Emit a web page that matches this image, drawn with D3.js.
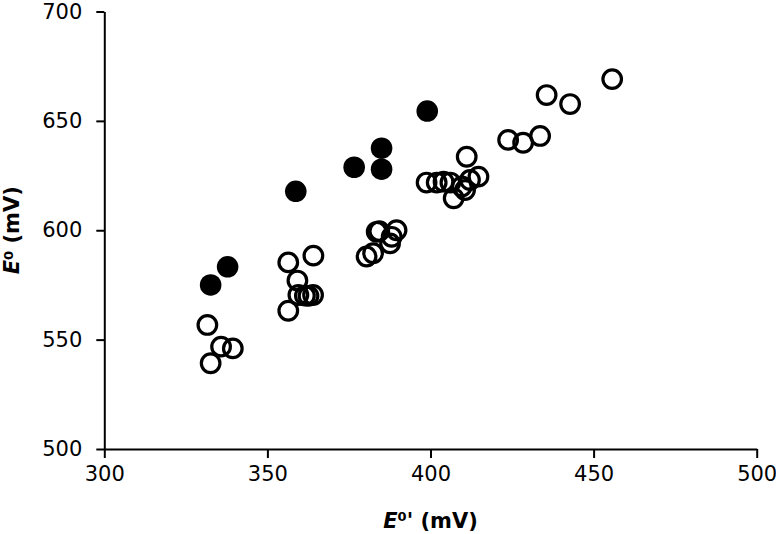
<!DOCTYPE html>
<html>
<head>
<meta charset="utf-8">
<script src="https://cdn.jsdelivr.net/npm/d3@7"></script>
<style>
  html, body { margin: 0; padding: 0; background: #fff; }
  svg { display: block; }
  .tick text { font-family: "DejaVu Sans", sans-serif; font-size: 21px; fill: #000; }
  .lbl { font-family: "DejaVu Sans", sans-serif; font-weight: bold; font-size: 21px; fill: #000; }
</style>
</head>
<body>
<script>
// Tick values
const xTicks = [300, 350, 400, 450, 500];
const yTicks = [500, 550, 600, 650, 700];

// Filled series: [E0' (mV), E0 (mV)]
const filledX = [399, 385, 376.6, 385, 358.7, 337.8, 332.6];
const filledY = [654.5, 637.5, 628.8, 627.9, 617.8, 583.3, 575.0];

// Open series: [E0' (mV), E0 (mV)]
const openX = [331.6, 335.8, 339.4, 332.6, 356.4, 364.1, 359.2, 359.5, 361.5, 362.6, 364.0, 356.4,
               383.5, 384.3, 389.6, 388.1, 387.6, 380.4, 382.4,
               411.1, 398.8, 401.9, 404.0, 406.1, 407.1, 409.6, 412.1, 414.7, 410.6,
               423.8, 428.4, 433.6, 435.6, 442.8, 455.7];
const openY = [556.7, 546.8, 546.0, 539.2, 585.3, 588.4, 577.0, 570.4, 570.1, 570.0, 570.4, 563.2,
               599.3, 599.6, 600.0, 597.0, 594.0, 588.0, 589.5,
               633.6, 621.8, 621.8, 622.2, 621.8, 614.6, 620.0, 623.0, 624.5, 618.4,
               641.3, 640.0, 643.1, 661.8, 657.7, 669.1];

const W = 776, H = 534;
const svg = d3.select("body").append("svg").attr("width", W).attr("height", H);

const x = d3.scaleLinear().domain([300, 500]).range([104.3, 756.7]);
const y = d3.scaleLinear().domain([500, 700]).range([449, 11.5]);

const xAxis = d3.axisBottom(x).tickValues(xTicks).tickSize(9).tickSizeOuter(0).tickPadding(8).tickFormat(d3.format("d"));
const yAxis = d3.axisLeft(y).tickValues(yTicks).tickSize(8).tickSizeOuter(0).tickPadding(14).tickFormat(d3.format("d"));

const gx = svg.append("g").attr("transform", `translate(0,${y(500)})`).call(xAxis);
const gy = svg.append("g").attr("transform", `translate(${x(300)},0)`).call(yAxis);
[gx, gy].forEach(g => {
  g.selectAll("path.domain").attr("stroke", "#000").attr("stroke-width", 2);
  g.selectAll(".tick line").attr("stroke", "#000").attr("stroke-width", 2);
});

// Open circles
const openData = openX.map((v, i) => [v, openY[i]]);
svg.append("g").selectAll("circle").data(openData).join("circle")
  .attr("cx", d => x(d[0])).attr("cy", d => y(d[1])).attr("r", 9.3)
  .attr("fill", "none").attr("stroke", "#000").attr("stroke-width", 3.2);

// Filled circles
const filledData = filledX.map((v, i) => [v, filledY[i]]);
svg.append("g").selectAll("circle").data(filledData).join("circle")
  .attr("cx", d => x(d[0])).attr("cy", d => y(d[1])).attr("r", 10.8)
  .attr("fill", "#000");

// X axis label
const xl = svg.append("text").attr("class", "lbl").attr("x", (x(300) + x(500)) / 2).attr("y", 528).attr("text-anchor", "middle");
xl.append("tspan").attr("font-style", "italic").text("E");
xl.append("tspan").attr("font-size", "13px").attr("dy", "-7").text("0");
xl.append("tspan").attr("dy", "7").text("' (mV)");

// Y axis label
const yl = svg.append("text").attr("class", "lbl").attr("text-anchor", "middle")
  .attr("transform", `translate(19,${(y(500) + y(700)) / 2}) rotate(-90)`);
yl.append("tspan").attr("font-style", "italic").text("E");
yl.append("tspan").attr("font-size", "13px").attr("dy", "-6").text("0");
yl.append("tspan").attr("dy", "6").text(" (mV)");
</script>
</body>
</html>
